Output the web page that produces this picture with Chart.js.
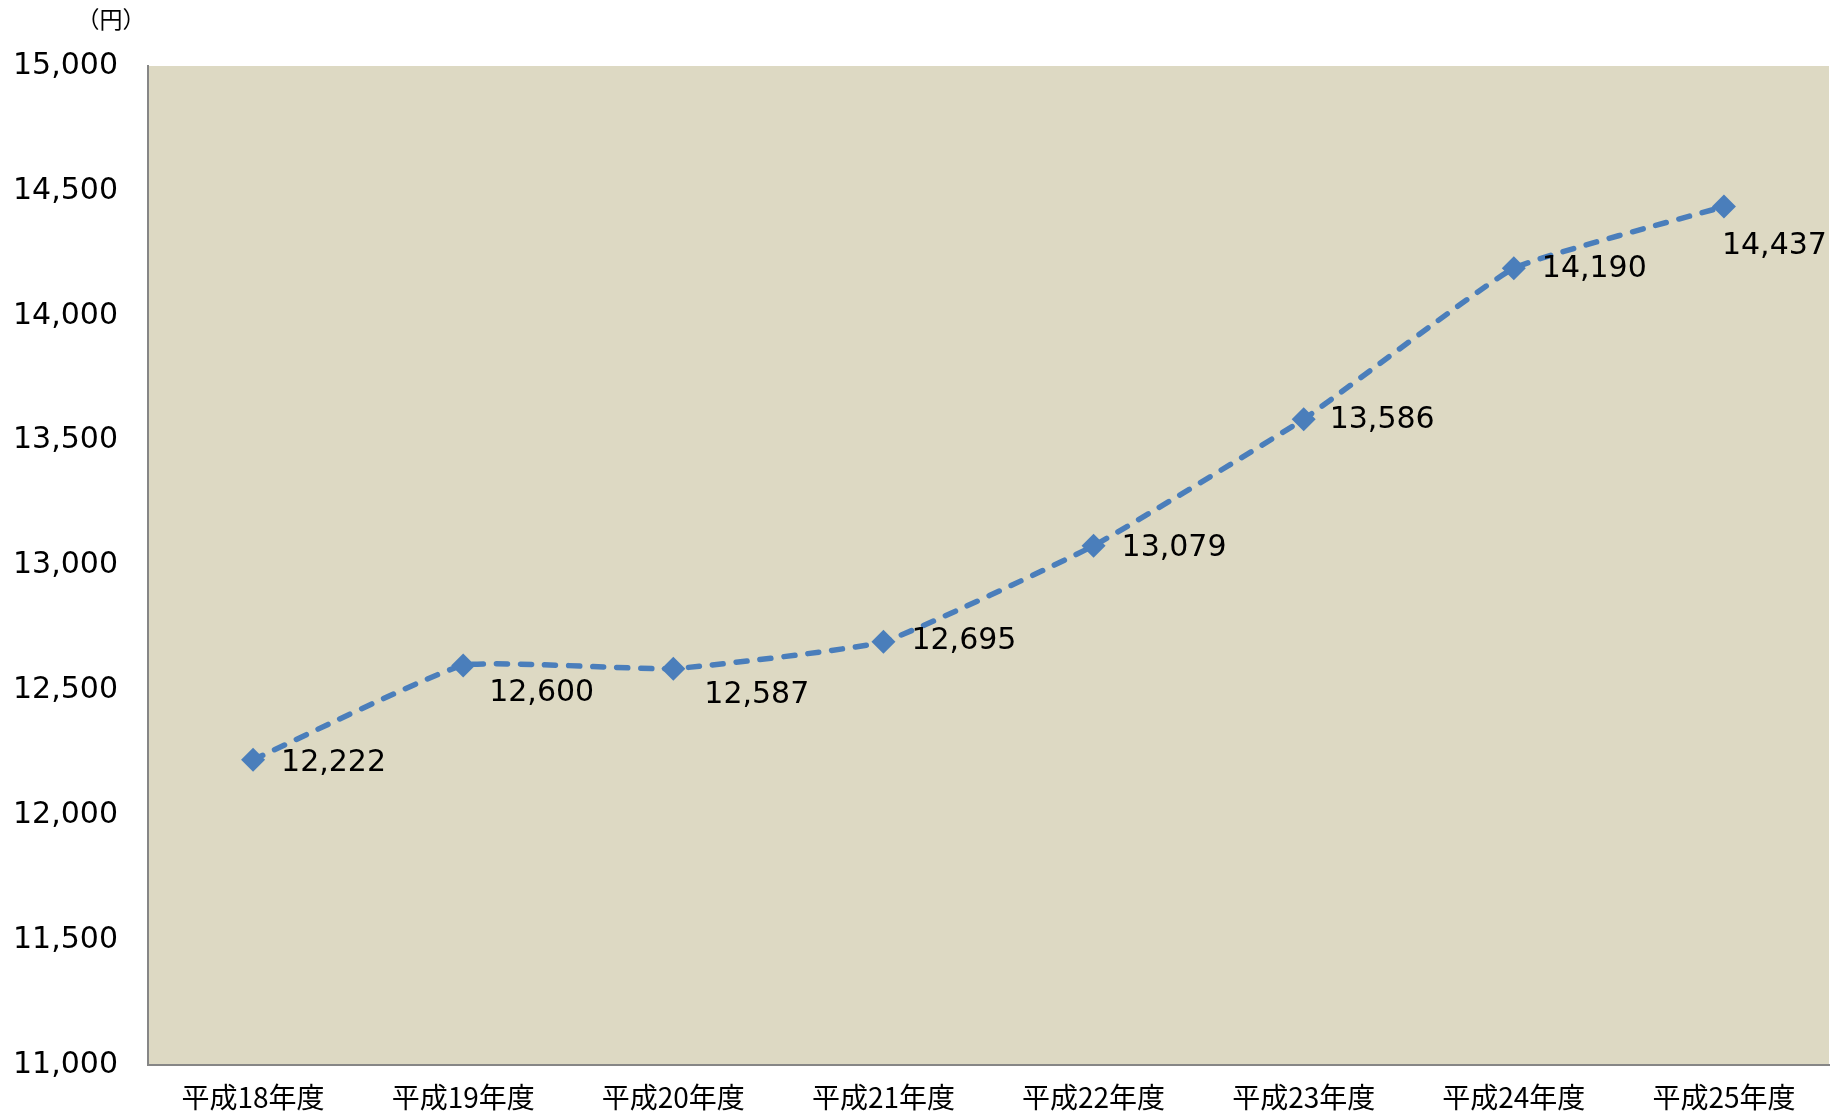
<!DOCTYPE html>
<html lang="ja">
<head>
<meta charset="utf-8">
<script src="https://cdn.jsdelivr.net/npm/chart.js@4/dist/chart.umd.min.js"></script>
<style>
  html, body { margin: 0; padding: 0; background: #fff; }
  #wrap { width: 1841px; height: 1114px; }
</style>
</head>
<body>
<div id="wrap"><canvas id="chart"></canvas></div>
<script>
// ------------ データ ------------
const nendo = ["平成18年度", "平成19年度", "平成20年度", "平成21年度", "平成22年度", "平成23年度", "平成24年度", "平成25年度"];
const kingaku = [12222, 12600, 12587, 12695, 13079, 13586, 14190, 14437];
const yTicks = [11000, 11500, 12000, 12500, 13000, 13500, 14000, 14500, 15000];

const numFont = "'DejaVu Sans', sans-serif";
const jpFont = "'Noto Sans CJK JP', sans-serif";
const blue = "#4A7EBB";

// 背景（プロットエリア）
const plotBg = {
  id: "plotBg",
  beforeDraw(chart) {
    const { ctx, chartArea: a } = chart;
    ctx.save();
    ctx.fillStyle = "#DDD9C3";
    ctx.fillRect(a.left, a.top, a.right - a.left, a.bottom - a.top);
    ctx.restore();
  }
};

// データラベル + 単位
const labels = {
  id: "labels",
  afterDatasetsDraw(chart, args, opts) {
    const { ctx } = chart;
    const meta = chart.getDatasetMeta(0);
    ctx.save();
    ctx.fillStyle = "#000";
    ctx.font = "30px " + numFont;
    ctx.textAlign = "left";
    ctx.textBaseline = "middle";
    meta.data.forEach((pt, i) => {
      const o = opts.offsets[i];
      ctx.fillText(kingaku[i].toLocaleString("en-US"), pt.x + o[0], pt.y + o[1]);
    });
    // 単位
    ctx.font = "23px " + jpFont;
    ctx.textAlign = "center";
    ctx.fillText("（円）", chart.chartArea.left - 37, 19);
    ctx.restore();
  }
};

new Chart(document.getElementById("chart"), {
  type: "line",
  data: {
    labels: nendo,
    datasets: [{
      data: kingaku,
      borderColor: blue,
      backgroundColor: blue,
      borderWidth: 5.5,
      borderDash: [11, 13],
      borderCapStyle: "round",
      tension: 0.12,
      pointStyle: "rectRot",
      pointRadius: 12,
      pointBorderWidth: 0,
      pointBackgroundColor: blue
    }]
  },
  options: {
    responsive: true,
    maintainAspectRatio: false,
    animation: false,
    devicePixelRatio: 1,
    layout: { padding: { left: 0, right: 5, top: 66, bottom: 0 } },
    plugins: {
      legend: { display: false },
      tooltip: { enabled: false },
      labels: {
        offsets: [[28, 3], [26, 28], [31, 27], [28, 0], [28, 2], [26, 1], [28, 1], [-2, 40]]
      }
    },
    scales: {
      x: {
        offset: true,
        grid: { display: false, drawTicks: false },
        border: { display: true, color: "#868686", width: 2 },
        ticks: { color: "#000", font: { family: jpFont, size: 28 }, padding: 16, maxRotation: 0 },
        afterFit(scale) { scale.height = 49; }
      },
      y: {
        min: 11000,
        max: 15000,
        grid: { display: false, drawTicks: false },
        border: { display: true, color: "#868686", width: 2 },
        afterBuildTicks(scale) { scale.ticks = yTicks.map(v => ({ value: v })); },
        ticks: {
          color: "#000",
          font: { family: numFont, size: 30 },
          padding: 30,
          callback: v => v.toLocaleString("en-US")
        },
        afterFit(scale) { scale.width = 148; }
      }
    }
  },
  plugins: [plotBg, labels]
});
</script>
</body>
</html>
